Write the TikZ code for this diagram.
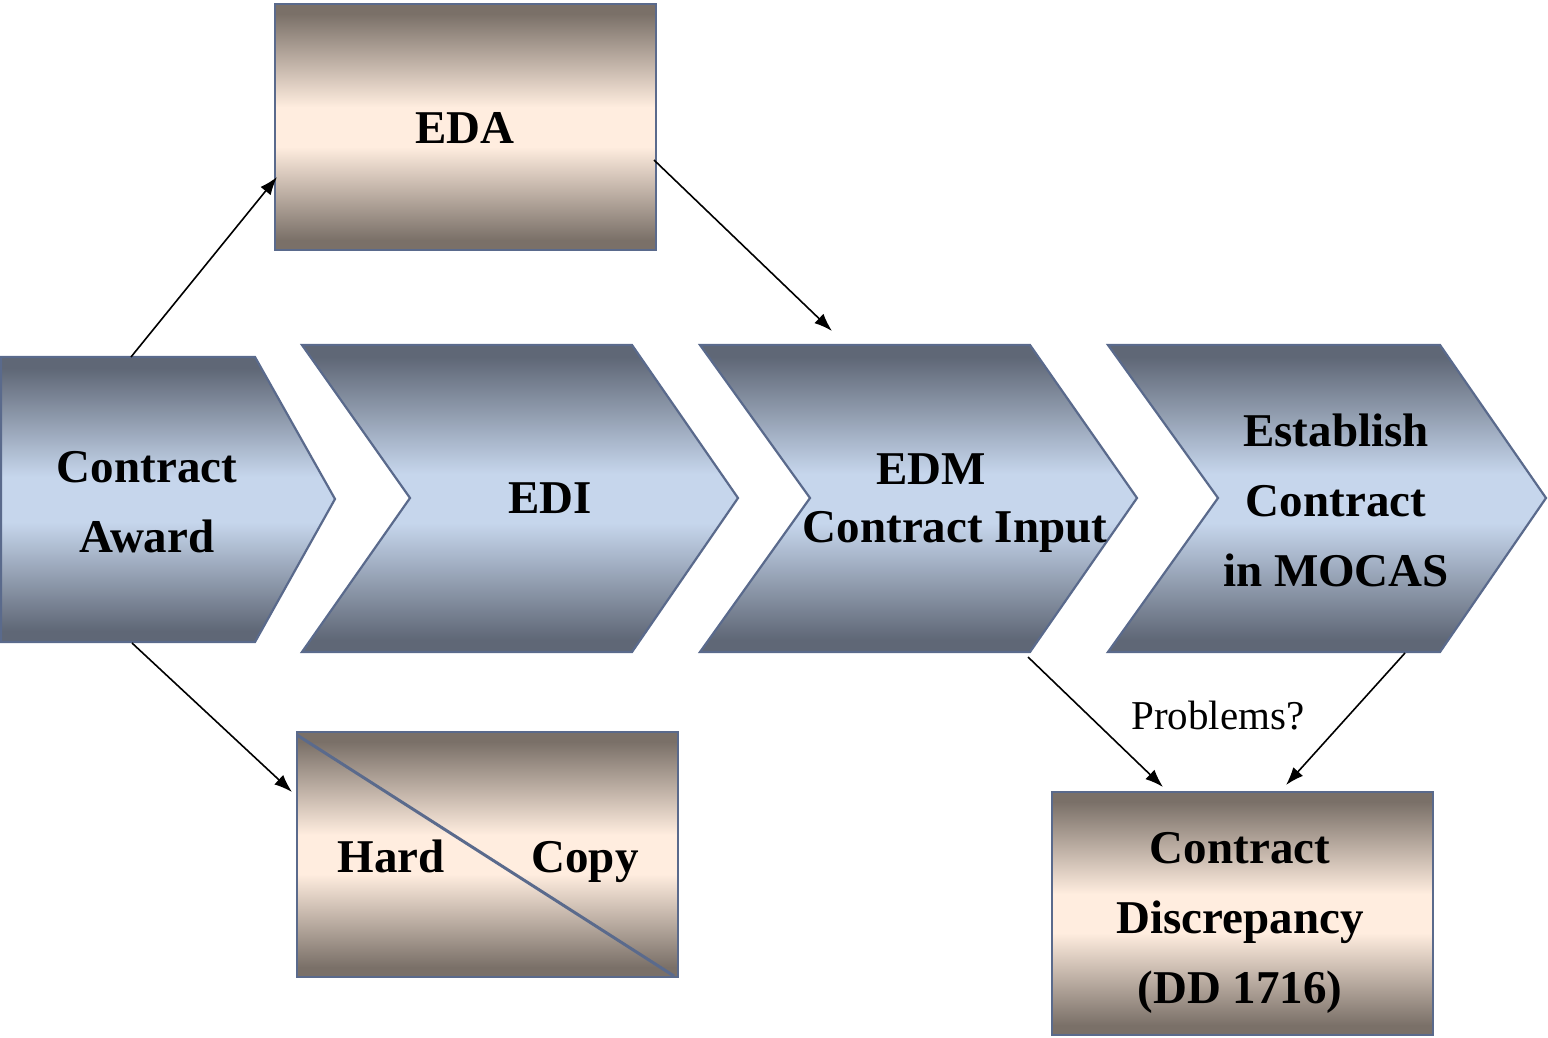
\documentclass[tikz,border=0pt]{standalone}
\usepackage{fontspec}
\setmainfont{Liberation Serif}
\usetikzlibrary{arrows.meta}
\definecolor{bdark}{HTML}{5F6776}
\definecolor{blight}{HTML}{C6D6EC}
\definecolor{ndark}{HTML}{7A7068}
\definecolor{nlight}{HTML}{FFEDDF}
\definecolor{edge}{HTML}{5A6A8C}
\pgfdeclareverticalshading{blueband}{100bp}{color(0bp)=(bdark); color(25bp)=(bdark); color(27bp)=(bdark); color(46bp)=(blight); color(54bp)=(blight); color(73bp)=(bdark); color(75bp)=(bdark); color(100bp)=(bdark)}
\pgfdeclareverticalshading{tanband}{100bp}{color(0bp)=(ndark); color(25bp)=(ndark); color(27bp)=(ndark); color(46bp)=(nlight); color(54bp)=(nlight); color(73bp)=(ndark); color(75bp)=(ndark); color(100bp)=(ndark)}
\tikzset{
  chev/.style={shading=blueband, draw=edge, line width=2.2pt, line join=miter},
  tanbox/.style={shading=tanband, draw=edge, line width=2.5pt},
  lbl/.style={font=\fontsize{47}{70}\selectfont\bfseries, align=center, inner sep=0pt},
  plain/.style={font=\fontsize{41}{48}\selectfont, inner sep=0pt},
  conn/.style={black, line width=1.6pt, -{Latex[length=18pt,width=13pt]}}
}
\begin{document}
\begin{tikzpicture}[x=1pt,y=-1pt]
\useasboundingbox (0,0) rectangle (1548,1037);
% chevrons
\shade[chev] (1,357) -- (255,357) -- (335,499) -- (255,642) -- (1,642) -- cycle;
\shade[chev] (302,345) -- (632,345) -- (738,498) -- (632,652) -- (302,652) -- (410,498) -- cycle;
\shade[chev] (700,345) -- (1030,345) -- (1137,498) -- (1030,652) -- (700,652) -- (810,498) -- cycle;
\shade[chev] (1108,345) -- (1440,345) -- (1546,498) -- (1440,652) -- (1108,652) -- (1218,498) -- cycle;
% boxes
\shade[tanbox] (275,4) rectangle (656,250);
\shade[tanbox] (297,732) rectangle (678,977);
\draw[edge, line width=3pt] (297,735) -- (674,976);
\shade[tanbox] (1052,792) rectangle (1433,1035);
% labels
\node[lbl] (award) at (147,502) {Contract\\Award};
\node[lbl] (edi) at (550,498) {EDI};
\node[lbl] (edm) at (955,503) {EDM\hspace*{48pt}\\[-12pt]Contract Input};
\node[lbl] (mocas) at (1336,500) {Establish\\Contract\\in MOCAS};
\node[lbl] (eda) at (465,128) {EDA};
\node[lbl, anchor=base] (hard) at (391,872) {Hard};
\node[lbl, anchor=base] (copy) at (585,872) {Copy};
\node[lbl] (dd) at (1240,923) {Contract\\Discrepancy\\(DD 1716)};
\node[plain] (prob) at (1218,716) {Problems?};
% connector ends
\coordinate (awardtop) at (131,357);
\coordinate (awardbot) at (132,643);
\coordinate (edain) at (277,177);
\coordinate (edaout) at (654,160);
\coordinate (edmin) at (832,331);
\coordinate (hardin) at (292,792);
\coordinate (edmout) at (1028,657);
\coordinate (ddinl) at (1163,787);
\coordinate (mocasout) at (1405,653);
\coordinate (ddinr) at (1286,785);
\draw[conn] (awardtop) -- (edain);
\draw[conn] (edaout) -- (edmin);
\draw[conn] (awardbot) -- (hardin);
\draw[conn] (edmout) -- (ddinl);
\draw[conn] (mocasout) -- (ddinr);
\end{tikzpicture}
\end{document}
